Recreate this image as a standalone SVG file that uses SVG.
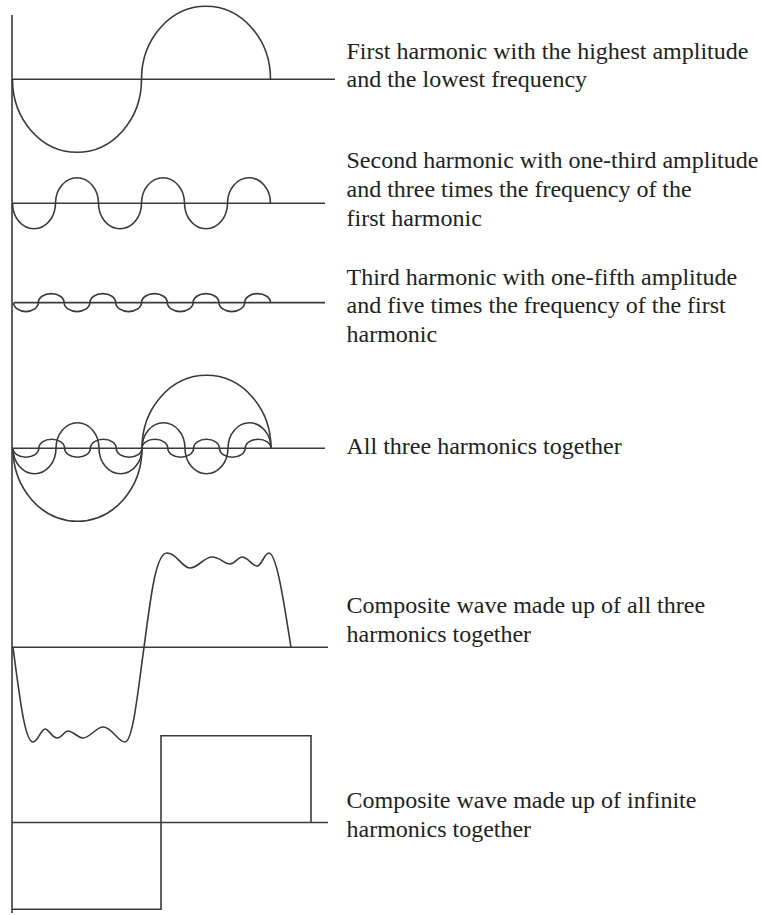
<svg xmlns="http://www.w3.org/2000/svg" width="762" height="915" viewBox="0 0 762 915">
<style>
.ln{fill:none;stroke:#3a3a3a;stroke-width:1.6}
text{font-family:'Liberation Serif','Times New Roman','DejaVu Serif',serif;font-size:24px;fill:#222}
</style>
<rect width="762" height="915" fill="#fff"/>
<line id="axis" class="ln" x1="12" y1="15" x2="12" y2="913"/>
<g id="first-harmonic">
<line class="ln" x1="12" y1="79.3" x2="335" y2="79.3"/>
<path class="ln" d="M12.5,79.3 A64.5,73 0 0 0 141.5,79.3 A64.5,73 0 0 1 270.5,79.3"/>
<text font-family="Liberation Serif, serif" x="346.5" y="59">First harmonic with the highest amplitude</text>
<text font-family="Liberation Serif, serif" x="346.5" y="87">and the lowest frequency</text>
</g>
<g id="second-harmonic">
<line class="ln" x1="12" y1="203.3" x2="325" y2="203.3"/>
<path class="ln" d="M12.5,203.3 A21.5,25.5 0 0 0 55.5,203.3 A21.5,25.5 0 0 1 98.5,203.3 A21.5,25.5 0 0 0 141.5,203.3 A21.5,25.5 0 0 1 184.5,203.3 A21.5,25.5 0 0 0 227.5,203.3 A21.5,25.5 0 0 1 270.5,203.3"/>
<text font-family="Liberation Serif, serif" x="346.5" y="168.3">Second harmonic with one-third amplitude</text>
<text font-family="Liberation Serif, serif" x="346.5" y="196.7">and three times the frequency of the</text>
<text font-family="Liberation Serif, serif" x="346.5" y="225.5">first harmonic</text>
</g>
<g id="third-harmonic">
<line class="ln" x1="14" y1="302.6" x2="325" y2="302.6"/>
<path class="ln" d="M13.5,302.6 A12.4,9 0 0 0 38.3,302.6 A12.9,9 0 0 1 64.1,302.6 A12.9,9 0 0 0 89.9,302.6 A12.9,9 0 0 1 115.7,302.6 A12.9,9 0 0 0 141.5,302.6 A12.9,9 0 0 1 167.3,302.6 A12.9,9 0 0 0 193.1,302.6 A12.9,9 0 0 1 218.9,302.6 A12.9,9 0 0 0 244.7,302.6 A12.9,9 0 0 1 270.5,302.6"/>
<text font-family="Liberation Serif, serif" x="346.5" y="285">Third harmonic with one-fifth amplitude</text>
<text font-family="Liberation Serif, serif" x="346.5" y="313.3">and five times the frequency of the first</text>
<text font-family="Liberation Serif, serif" x="346.5" y="341.5">harmonic</text>
</g>
<g id="all-three">
<line class="ln" x1="12" y1="448.3" x2="325" y2="448.3"/>
<path class="ln" d="M13,448.3 A64.5,73 0 0 0 142,448.3 A64.5,73 0 0 1 271,448.3"/>
<path class="ln" d="M13,448.3 A21.5,25.5 0 0 0 56,448.3 A21.5,25.5 0 0 1 99,448.3 A21.5,25.5 0 0 0 142,448.3 A21.5,25.5 0 0 1 185,448.3 A21.5,25.5 0 0 0 228,448.3 A21.5,25.5 0 0 1 271,448.3"/>
<path class="ln" d="M13,448.3 A12.9,9 0 0 0 38.8,448.3 A12.9,9 0 0 1 64.6,448.3 A12.9,9 0 0 0 90.4,448.3 A12.9,9 0 0 1 116.2,448.3 A12.9,9 0 0 0 142,448.3 A12.9,9 0 0 1 167.8,448.3 A12.9,9 0 0 0 193.6,448.3 A12.9,9 0 0 1 219.4,448.3 A12.9,9 0 0 0 245.2,448.3 A12.9,9 0 0 1 271,448.3"/>
<text font-family="Liberation Serif, serif" x="346.5" y="454.3">All three harmonics together</text>
</g>
<g id="composite-three">
<line class="ln" x1="12" y1="647.3" x2="328" y2="647.3"/>
<path class="ln" d="M13,647.3 C20,700 25,742 33,742 C38,742 41,729 45,729 C49,729 52,738 57,738 C62,738 64,731 68,731 C73,731 78,738 83,738 C90,738 96,727 103,727 C112,727 118,742 125,742 C133,742 138,690 144,647.3 C150,604 155,553 167,553 C177,553 182,568 190,568 C198,568 204,557 212,557 C220,557 224,564 230,564 C235,564 238,557 242,557 C248,557 252,566 257,566 C262,566 264,553 269,553 C277,553 285,610 291,647.3"/>
<text font-family="Liberation Serif, serif" x="346.5" y="613.3">Composite wave made up of all three</text>
<text font-family="Liberation Serif, serif" x="346.5" y="641.7">harmonics together</text>
</g>
<g id="composite-infinite">
<line class="ln" x1="12" y1="822.5" x2="328" y2="822.5"/>
<path class="ln" d="M12,909.3 H161 V735.7 H311 V822.5"/>
<text font-family="Liberation Serif, serif" x="346.5" y="808.3">Composite wave made up of infinite</text>
<text font-family="Liberation Serif, serif" x="346.5" y="836.7">harmonics together</text>
</g>
</svg>
